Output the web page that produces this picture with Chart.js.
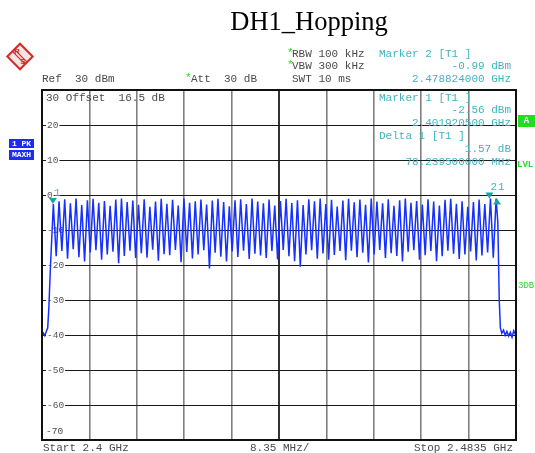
<!DOCTYPE html>
<html><head><meta charset="utf-8">
<script src="https://cdn.jsdelivr.net/npm/chart.js@4/dist/chart.umd.min.js"></script>
<style>html,body{margin:0;padding:0;background:#fff;overflow:hidden}canvas{display:block}</style>
</head><body>
<canvas id="c" width="535" height="453"></canvas>
<script>
// ---- data (MHz / dBm) ----
const chartTitle = 'DH1_Hopping';
const startMHz = 2400, stopMHz = 2483.5;
const xGridMHz = [2400, 2408.35, 2416.7, 2425.05, 2433.4, 2441.75, 2450.1, 2458.45, 2466.8, 2475.15, 2483.5];
const yMin = -70, yMax = 30, yStep = 10;

const headMHz   = [2400, 2400.25, 2400.5, 2400.75, 2401.0, 2401.2, 2401.5];
const headLevel = [-40.5, -39.5, -40.2, -39.0, -38.0, -32.5, -20.0];

const channelMHz = [2402,2403,2404,2405,2406,2407,2408,2409,2410,2411,2412,2413,2414,2415,2416,2417,2418,2419,2420,2421,
  2422,2423,2424,2425,2426,2427,2428,2429,2430,2431,2432,2433,2434,2435,2436,2437,2438,2439,2440,2441,
  2442,2443,2444,2445,2446,2447,2448,2449,2450,2451,2452,2453,2454,2455,2456,2457,2458,2459,2460,2461,
  2462,2463,2464,2465,2466,2467,2468,2469,2470,2471,2472,2473,2474,2475,2476,2477,2478,2479,2480];
const peakLevel = [-2.56,-1.8,-1.2,-2.4,-1.0,-2.9,-1.5,-1.1,-2.2,-1.7,
  -3.1,-1.3,-1.0,-2.0,-1.6,-2.8,-1.2,-3.4,-1.9,-1.1,
  -2.5,-1.4,-3.0,-1.0,-2.2,-1.8,-1.3,-2.7,-1.6,-1.1,
  -2.0,-3.2,-1.5,-1.2,-2.6,-1.0,-1.9,-2.4,-1.3,-3.0,
  -1.7,-1.1,-2.3,-1.5,-2.9,-1.2,-1.8,-1.0,-2.6,-1.4,
  -3.3,-1.6,-1.1,-2.1,-1.3,-2.8,-1.0,-1.9,-2.4,-1.2,
  -3.1,-1.5,-1.0,-2.2,-1.7,-2.7,-1.2,-1.9,-3.0,-1.4,
  -1.1,-2.5,-1.8,-3.4,-2.0,-1.3,-2.6,-0.99,-0.99];

const troughMHz = [2402.5,2403.5,2404.5,2405.5,2406.5,2407.5,2408.5,2409.5,2410.5,2411.5,2412.5,2413.5,2414.5,2415.5,2416.5,2417.5,2418.5,2419.5,2420.5,2421.5,
  2422.5,2423.5,2424.5,2425.5,2426.5,2427.5,2428.5,2429.5,2430.5,2431.5,2432.5,2433.5,2434.5,2435.5,2436.5,2437.5,2438.5,2439.5,2440.5,2441.5,
  2442.5,2443.5,2444.5,2445.5,2446.5,2447.5,2448.5,2449.5,2450.5,2451.5,2452.5,2453.5,2454.5,2455.5,2456.5,2457.5,2458.5,2459.5,2460.5,2461.5,
  2462.5,2463.5,2464.5,2465.5,2466.5,2467.5,2468.5,2469.5,2470.5,2471.5,2472.5,2473.5,2474.5,2475.5,2476.5,2477.5,2478.5,2479.5];
const troughLevel = [-17.5,-16.0,-18.2,-15.5,-17.8,-19.0,-16.4,-15.8,-18.5,-17.0,
  -16.2,-19.5,-17.4,-15.9,-18.0,-16.6,-17.9,-15.6,-18.8,-16.9,
  -17.2,-15.7,-19.2,-16.3,-18.1,-17.0,-15.8,-21.0,-16.5,-17.6,
  -19.0,-16.1,-17.7,-15.9,-18.3,-16.8,-17.3,-18.0,-16.0,-18.4,
  -15.7,-17.5,-18.9,-20.5,-17.0,-15.8,-18.2,-16.7,-18.5,-17.1,
  -16.0,-18.6,-15.9,-17.8,-16.5,-19.3,-17.0,-15.7,-18.0,-16.6,
  -17.4,-19.0,-16.2,-15.8,-18.5,-17.2,-16.0,-18.9,-17.5,-15.9,
  -16.8,-18.3,-17.0,-16.1,-18.7,-17.3,-16.4,-17.9];

const tailMHz   = [2480.3, 2480.55, 2480.75, 2481.0, 2481.3, 2481.6, 2481.9, 2482.2, 2482.5, 2482.8, 2483.1, 2483.5];
const tailLevel = [-8.0, -30.0, -38.0, -39.5, -38.6, -40.1, -39.0, -40.3, -39.2, -40.6, -38.8, -40.2];

const markerMHz   = [2401.9205, 2478.824, 2480.16];
const markerLevel = [-2.56, -0.99, -0.99];
const markerLabel = ['1', '2', '1'];
const markerUp    = [false, false, true];

// ---- build trace ----
const trace = [];
headMHz.forEach((f, i) => trace.push({x: f, y: headLevel[i]}));
channelMHz.forEach((f, i) => {
  trace.push({x: f, y: peakLevel[i]});
  if (i < troughMHz.length) trace.push({x: troughMHz[i], y: troughLevel[i]});
});
tailMHz.forEach((f, i) => trace.push({x: f, y: tailLevel[i]}));

const MONO = '11px "Liberation Mono", "DejaVu Sans Mono", monospace';
const GREY = '#4a4a4a', CYAN = '#3fb4bd', GREEN = '#22dd22', MARK = '#1aa3a3';

function txt(ctx, s, x, y, color, align, font) {
  ctx.font = font || MONO;
  ctx.fillStyle = color;
  ctx.textAlign = align || 'left';
  ctx.textBaseline = 'middle';
  ctx.fillText(s, x, y);
}

const overlay = {
  id: 'overlay',
  afterDraw(chart) {
    const ctx = chart.ctx, a = chart.chartArea;
    const xs = chart.scales.x, ys = chart.scales.y;
    ctx.save();
    // border
    ctx.strokeStyle = '#111'; ctx.lineWidth = 2;
    ctx.strokeRect(a.left, a.top, a.right - a.left, a.bottom - a.top);
    // title
    txt(ctx, chartTitle, 309, 23, '#000', 'center', '26.5px "Liberation Serif", "Times New Roman", serif');
    // logo
    ctx.save();
    ctx.translate(20, 56.5); ctx.rotate(Math.PI / 4);
    ctx.fillStyle = '#fbe3e3';
    ctx.fillRect(-9, -9, 18, 18);
    ctx.strokeStyle = '#d42a2a'; ctx.lineWidth = 2;
    ctx.strokeRect(-9, -9, 18, 18);
    ctx.lineWidth = 1.2;
    ctx.beginPath(); ctx.moveTo(-9, -1); ctx.lineTo(9, -1); ctx.moveTo(-9, 1.8); ctx.lineTo(9, 1.8); ctx.stroke();
    ctx.restore();
    txt(ctx, 'R', 17, 51.5, '#d42a2a', 'center', 'bold 8px "Liberation Sans", sans-serif');
    txt(ctx, 'S', 23, 61.5, '#d42a2a', 'center', 'bold 8px "Liberation Sans", sans-serif');
    // header
    txt(ctx, 'Ref  30 dBm', 42, 79, GREY);
    txt(ctx, '*', 185, 78, GREEN);
    txt(ctx, 'Att  30 dB', 191, 79, GREY);
    txt(ctx, '*', 287, 53, GREEN);
    txt(ctx, 'RBW 100 kHz', 292, 54, GREY);
    txt(ctx, '*', 287, 65, GREEN);
    txt(ctx, 'VBW 300 kHz', 292, 66, GREY);
    txt(ctx, 'SWT 10 ms', 292, 79, GREY);
    txt(ctx, 'Marker 2 [T1 ]', 379, 54, CYAN);
    txt(ctx, '-0.99 dBm', 511, 66, CYAN, 'right');
    txt(ctx, '2.478824000 GHz', 511, 79, CYAN, 'right');
    // inside plot
    txt(ctx, '30 Offset  16.5 dB', 46, 98, GREY);
    txt(ctx, '-70', 46, 431, GREY, 'left', '9.5px "Liberation Mono", monospace');
    txt(ctx, 'Marker 1 [T1 ]', 379, 98, CYAN);
    txt(ctx, '-2.56 dBm', 511, 110, CYAN, 'right');
    txt(ctx, '2.401920500 GHz', 511, 123, CYAN, 'right');
    txt(ctx, 'Delta 1 [T1 ]', 379, 136, CYAN);
    txt(ctx, '1.57 dB', 511, 149, CYAN, 'right');
    txt(ctx, '78.239500000 MHz', 511, 162, CYAN, 'right');
    // left side boxes
    ctx.fillStyle = '#1c2cf0';
    ctx.fillRect(9, 139, 25, 9);
    ctx.fillRect(9, 150, 25, 10);
    txt(ctx, '1 PK', 21.5, 143.5, '#fff', 'center', 'bold 8px "Liberation Mono", monospace');
    txt(ctx, 'MAXH', 21.5, 155, '#fff', 'center', 'bold 8px "Liberation Mono", monospace');
    // right side
    ctx.fillStyle = '#22dd22';
    ctx.fillRect(518, 115, 17, 12);
    txt(ctx, 'A', 526.5, 121, '#fff', 'center', 'bold 9px "Liberation Mono", monospace');
    txt(ctx, 'LVL', 517, 165, GREEN, 'left', 'bold 9px "Liberation Mono", monospace');
    txt(ctx, '3DB', 518, 286, GREEN, 'left', '9px "Liberation Mono", monospace');
    // bottom
    txt(ctx, 'Start 2.4 GHz', 43, 448, GREY);
    txt(ctx, '8.35 MHz/', 250, 448, GREY);
    txt(ctx, 'Stop 2.4835 GHz', 513, 448, GREY, 'right');
    // markers
    markerMHz.forEach((f, i) => {
      const x = xs.getPixelForValue(f), y = ys.getPixelForValue(markerLevel[i]);
      ctx.fillStyle = MARK;
      ctx.beginPath();
      if (markerUp[i]) { ctx.moveTo(x, y); ctx.lineTo(x - 4, y + 6); ctx.lineTo(x + 4, y + 6); }
      else { ctx.moveTo(x, y); ctx.lineTo(x - 4, y - 6); ctx.lineTo(x + 4, y - 6); }
      ctx.closePath(); ctx.fill();
      txt(ctx, markerLabel[i], x + 1, y - 11, CYAN);
    });
    ctx.restore();
  }
};

new Chart(document.getElementById('c'), {
  type: 'line',
  data: {
    datasets: [{
      data: trace,
      borderColor: '#1530ff',
      borderWidth: 1.5,
      pointRadius: 0,
      tension: 0,
      fill: false
    }]
  },
  options: {
    responsive: false,
    animation: false,
    devicePixelRatio: 1,
    layout: {padding: {left: 42, right: 19, top: 90, bottom: 13}},
    plugins: {legend: {display: false}, tooltip: {enabled: false}, title: {display: false}},
    scales: {
      x: {
        type: 'linear', min: startMHz, max: stopMHz,
        afterBuildTicks: s => { s.ticks = xGridMHz.map(v => ({value: v})); },
        afterFit: s => { s.height = 0; },
        ticks: {display: false},
        border: {display: false},
        grid: {
          drawTicks: false,
          color: c => (c.index === 5 ? '#333' : '#808080'),
          lineWidth: c => (c.index === 5 ? 2 : 1.6)
        }
      },
      y: {
        min: yMin, max: yMax,
        afterFit: s => { s.width = 0; },
        ticks: {
          stepSize: yStep,
          mirror: true,
          padding: 5,
          color: '#555',
          font: {family: '"Liberation Mono", monospace', size: 9.5},
          callback: v => (v === yMax || v === yMin ? '' : String(v)),
          showLabelBackdrop: true,
          backdropColor: c => (c.tick && (c.tick.value === yMax || c.tick.value === yMin) ? 'rgba(0,0,0,0)' : '#fff'),
          backdropPadding: {left: 1, right: 1, top: 0, bottom: 0}
        },
        border: {display: false},
        grid: {drawTicks: false, color: '#1a1a1a', lineWidth: 1}
      }
    }
  },
  plugins: [overlay]
});
</script>
</body></html>
